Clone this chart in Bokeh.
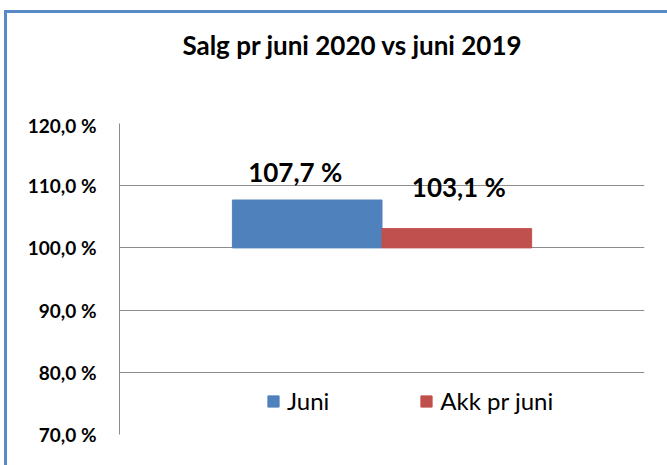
from bokeh.plotting import figure
from bokeh.layouts import column
from bokeh.models import ColumnDataSource, FactorRange, Div, Legend, LegendItem, FixedTicker
from bokeh.transform import dodge
from bokeh.core.properties import value
from bokeh.embed import file_html
from bokeh.resources import INLINE

title = "Salg pr juni 2020 vs juni 2019"
category = ["Salg"]
series = ["Juni", "Akk pr juni"]
values = [107.7, 103.1]
value_labels = ["107,7 %", "103,1 %"]
tick_values = [70, 80, 90, 100, 110, 120]
tick_labels = ["70,0 %", "80,0 %", "90,0 %", "100,0 %", "110,0 %", "120,0 %"]
baseline = 100

colors = ["#4F81BD", "#C0504D"]
dodges = [-0.1425, 0.1425]
label_dx = [-12, 2]
label_dy = [12, 26]
FONT = "Lato"

title_div = Div(
    text=('<div style="box-sizing:border-box;width:660px;padding:16px 0 0 30px;text-align:center;'
          'font-family:Lato;font-size:26px;font-weight:bold;line-height:32px;color:black;">'
          + title + '</div>'),
    width=660, height=100, margin=0)

p = figure(width=660, height=352, x_range=FactorRange(*category, range_padding=0),
           y_range=(70, 120), output_backend="svg", toolbar_location=None,
           min_border_left=112, min_border_right=23, min_border_top=10, min_border_bottom=31)
p.margin = 0

p.outline_line_color = None
p.background_fill_color = "white"
p.border_fill_color = "white"

items = []
for i in range(len(series)):
    src = ColumnDataSource(dict(x=category, top=[values[i]], bottom=[baseline], lab=[value_labels[i]]))
    r = p.vbar(x=dodge("x", dodges[i], range=p.x_range), top="top", bottom="bottom", width=0.285,
               source=src, fill_color=colors[i], line_color=colors[i])
    p.text(x=dodge("x", dodges[i], range=p.x_range), y="top", text="lab", source=src,
           text_align="center", text_baseline="bottom", x_offset=label_dx[i], y_offset=-label_dy[i],
           text_font=value(FONT), text_font_style="bold", text_font_size="26px", text_color="black")
    items.append(LegendItem(label=series[i], renderers=[r]))

leg = Legend(items=items, orientation="horizontal", location=(147, 19),
             glyph_width=14, glyph_height=14, label_standoff=7, spacing=90,
             label_text_font=FONT, label_text_font_size="24px", label_text_color="black",
             background_fill_alpha=0, border_line_color=None, padding=0, margin=0)
p.add_layout(leg, "center")

p.xaxis.visible = False
p.xgrid.visible = False
p.ygrid.grid_line_color = "#8C8C8C"
p.ygrid.grid_line_width = 1
yax = p.yaxis[0]
yax.ticker = FixedTicker(ticks=tick_values)
yax.major_label_overrides = {t: l for t, l in zip(tick_values, tick_labels)}
yax.axis_line_color = "#8C8C8C"
yax.major_tick_line_color = None
yax.minor_tick_line_color = None
yax.major_label_standoff = 17
yax.major_label_text_font = FONT
yax.major_label_text_font_style = "bold"
yax.major_label_text_font_size = "19px"
yax.major_label_text_color = "black"

layout = column(title_div, p, spacing=0, margin=(10, 0, 0, 4),
                styles={"border-left": "3px solid #5A8AC6", "border-top": "3px solid #5A8AC6",
                        "background-color": "white"})

open("out.html", "w").write(file_html(layout, INLINE))
